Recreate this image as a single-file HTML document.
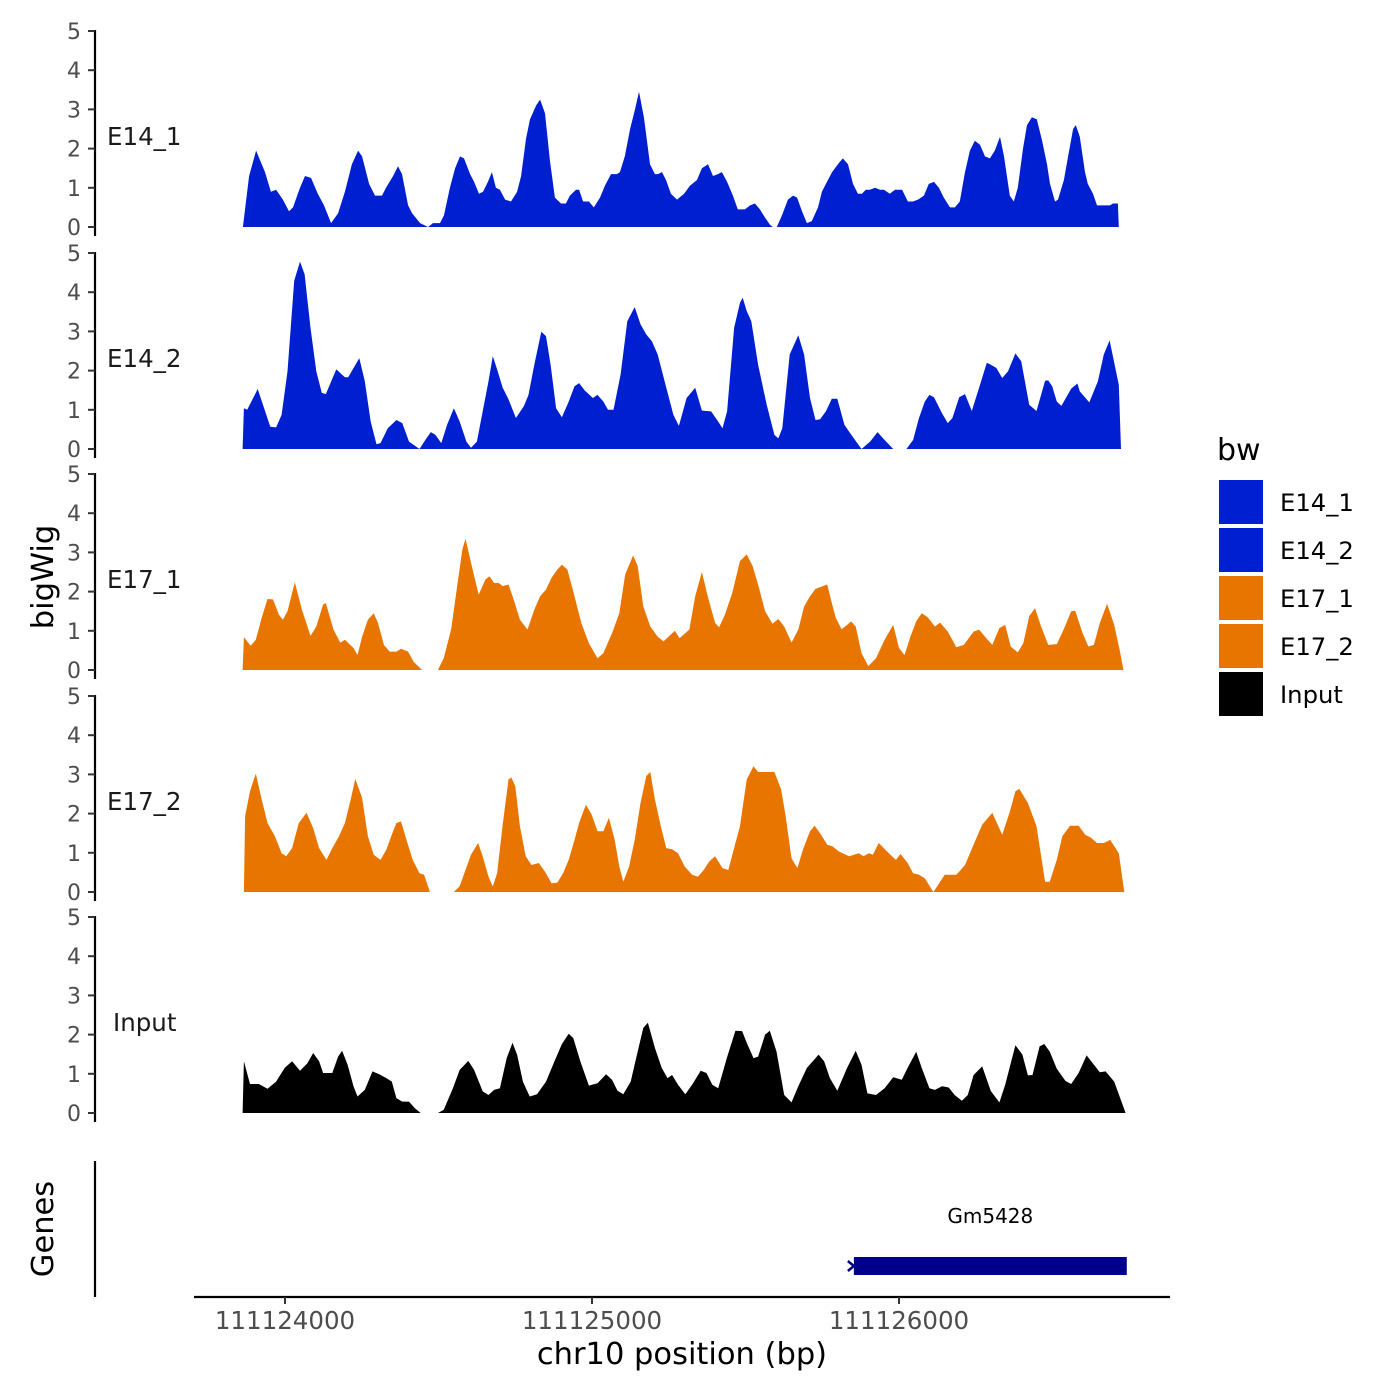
<!DOCTYPE html>
<html><head><meta charset="utf-8">
<style>
html,body{margin:0;padding:0;background:#fff;}
svg{display:block;font-family:"DejaVu Sans","Liberation Sans",sans-serif;}
</style></head>
<body>
<svg id="chart" width="1400" height="1400" viewBox="0 0 1400 1400" xmlns="http://www.w3.org/2000/svg">
<rect x="0" y="0" width="1400" height="1400" fill="#fff"/>
</svg>
<script>
const BASE = 111124000;
const trackNames = ["E14_1","E14_2","E17_1","E17_2","Input"];
const trackColors = ["#001fd0","#001fd0","#e87500","#e87500","#000000"];
const xTicks = [111124000,111125000,111126000];
const yTicks = [0,1,2,3,4,5];
// positions as bp offsets from BASE, values as coverage
const e14_1_pos = [-137,-117,-94,-65,-46,-29,-7,13,26,49,65,85,107,127,150,173,195,218,238,251,274,293,316,329,352,368,381,401,414,440,466,482,505,518,537,554,570,583,603,616,632,645,661,674,687,700,717,736,756,769,785,798,818,831,847,863,879,899,915,928,948,958,971,990,1006,1026,1042,1062,1081,1091,1107,1124,1140,1153,1169,1189,1205,1215,1228,1241,1257,1277,1300,1319,1342,1358,1378,1394,1410,1423,1440,1459,1475,1498,1515,1531,1547,1563,1580,1589,1602,1619,1638,1655,1668,1684,1700,1716,1736,1749,1762,1782,1801,1817,1834,1850,1866,1879,1892,1905,1922,1938,1951,1970,1987,2010,2029,2045,2062,2081,2097,2114,2130,2146,2166,2182,2198,2215,2231,2247,2264,2280,2296,2312,2329,2342,2361,2374,2387,2404,2417,2433,2449,2466,2482,2492,2508,2518,2537,2553,2567,2576,2589,2606,2615,2632,2645,2671,2687,2697,2713,2716];
const e14_1_val = [0,1.3,1.95,1.4,0.9,0.95,0.7,0.4,0.5,1.0,1.3,1.25,0.85,0.55,0.1,0.35,0.9,1.6,1.95,1.8,1.1,0.8,0.8,1.0,1.3,1.55,1.35,0.55,0.35,0.1,0,0.1,0.1,0.3,1.0,1.5,1.8,1.75,1.35,1.15,0.85,0.9,1.15,1.4,1.0,0.95,0.7,0.65,0.9,1.3,2.25,2.75,3.1,3.25,2.9,1.7,0.75,0.6,0.6,0.8,0.95,0.95,0.65,0.65,0.5,0.75,1.05,1.35,1.35,1.4,1.8,2.5,3.0,3.45,2.8,1.6,1.35,1.35,1.4,1.2,0.85,0.7,0.85,1.05,1.2,1.5,1.6,1.3,1.35,1.4,1.15,0.8,0.45,0.45,0.55,0.6,0.45,0.25,0.05,0,0,0.3,0.7,0.8,0.75,0.4,0.1,0.15,0.5,0.9,1.1,1.4,1.6,1.75,1.6,1.1,0.85,0.85,0.95,0.95,1.0,0.95,0.95,0.85,0.95,0.95,0.65,0.65,0.7,0.8,1.1,1.15,1.0,0.75,0.5,0.5,0.65,1.4,1.95,2.2,2.1,1.8,1.75,1.95,2.3,1.8,0.8,0.65,1.0,2.0,2.6,2.8,2.75,2.2,1.6,1.1,0.65,0.7,1.2,1.9,2.5,2.6,2.3,1.4,1.1,0.85,0.55,0.55,0.55,0.6,0.6,0];
const e14_2_pos = [-138,-134,-123,-89,-48,-29,-11,8,30,49,64,83,102,120,133,167,195,206,242,260,279,298,311,335,363,382,404,438,457,475,490,509,528,550,569,591,606,625,644,663,677,691,709,728,752,778,793,812,835,850,865,883,902,924,943,958,977,1003,1018,1037,1052,1070,1093,1115,1139,1158,1177,1195,1214,1242,1265,1283,1308,1336,1358,1388,1411,1425,1440,1463,1482,1491,1504,1519,1541,1569,1594,1607,1620,1644,1672,1691,1710,1728,1743,1762,1781,1799,1822,1841,1878,1906,1930,1953,1981,2024,2046,2065,2084,2099,2114,2140,2159,2174,2196,2215,2237,2261,2286,2299,2317,2336,2355,2379,2398,2424,2448,2476,2486,2499,2514,2529,2561,2581,2589,2620,2648,2667,2686,2716,2723];
const e14_2_val = [0,1.04,1.0,1.53,0.57,0.55,0.87,1.98,4.29,4.78,4.46,3.09,1.98,1.43,1.4,2.03,1.83,1.83,2.32,1.73,0.7,0.12,0.15,0.53,0.74,0.66,0.19,0,0.23,0.43,0.36,0.15,0.62,1.04,0.7,0.19,0.03,0.19,0.96,1.73,2.37,2.03,1.56,1.27,0.79,1.09,1.38,2.15,2.99,2.88,2.15,1.04,0.81,1.21,1.6,1.68,1.49,1.3,1.38,1.21,1.0,1.0,1.9,3.26,3.62,3.18,2.92,2.75,2.41,1.56,0.87,0.59,1.3,1.56,0.98,0.96,0.7,0.53,0.96,3.09,3.73,3.86,3.52,3.26,2.15,1.13,0.36,0.27,0.53,2.41,2.9,2.41,1.3,0.74,0.76,0.96,1.28,1.28,0.62,0.4,0,0.19,0.43,0.23,0,0,0.23,0.79,1.21,1.38,1.32,0.91,0.66,0.79,1.32,1.4,0.97,1.56,2.2,2.15,2.07,1.81,1.98,2.44,2.24,1.13,0.97,1.74,1.75,1.6,1.21,1.1,1.54,1.67,1.47,1.19,1.73,2.41,2.77,1.64,0];
const e17_1_pos = [-138,-134,-112,-95,-76,-57,-39,-20,-7,8,32,55,83,102,124,133,158,180,195,223,236,251,270,289,303,322,341,363,378,401,419,444,448,498,517,541,560,578,588,606,631,653,666,681,696,709,728,747,765,790,812,831,850,868,887,902,920,943,965,990,1018,1037,1065,1089,1108,1134,1149,1167,1190,1214,1233,1252,1270,1285,1317,1336,1358,1377,1401,1414,1433,1457,1482,1504,1523,1541,1564,1588,1607,1626,1650,1672,1691,1710,1728,1766,1781,1794,1813,1831,1844,1859,1878,1900,1925,1953,1981,2000,2018,2037,2056,2074,2093,2117,2134,2159,2187,2211,2243,2261,2280,2304,2327,2346,2364,2387,2405,2424,2443,2461,2486,2514,2536,2561,2574,2598,2617,2635,2654,2678,2701,2720,2731];
const e17_1_val = [0,0.84,0.62,0.77,1.33,1.81,1.8,1.41,1.28,1.5,2.24,1.54,0.87,1.11,1.67,1.71,1.03,0.7,0.77,0.56,0.38,0.85,1.28,1.45,1.2,0.64,0.47,0.47,0.54,0.47,0.21,0.02,0,0,0.3,1.03,2.09,3.08,3.35,2.74,1.92,2.31,2.39,2.22,2.22,2.14,2.18,1.75,1.28,1.03,1.54,1.88,2.05,2.35,2.56,2.69,2.56,1.88,1.2,0.68,0.3,0.43,0.94,1.45,2.44,2.92,2.65,1.62,1.11,0.85,0.73,0.87,1.0,0.81,1.03,1.88,2.5,1.88,1.2,1.09,1.41,1.97,2.78,2.95,2.65,2.18,1.5,1.18,1.3,1.11,0.7,1.03,1.62,1.88,2.07,2.18,1.71,1.33,1.04,1.15,1.24,1.11,0.43,0.1,0.3,0.77,1.15,0.56,0.38,0.85,1.24,1.45,1.35,1.11,1.21,0.98,0.58,0.64,0.98,1.03,0.85,0.64,1.07,1.15,0.6,0.45,0.68,1.37,1.58,1.15,0.64,0.66,1.03,1.5,1.51,0.94,0.6,0.64,1.2,1.69,1.15,0.47,0];
const e17_2_pos = [-134,-130,-114,-95,-76,-57,-33,-11,4,23,45,70,92,111,135,154,176,195,214,229,251,270,289,311,330,348,363,378,397,416,438,453,472,550,569,588,606,629,644,663,677,691,709,728,737,750,765,784,803,827,850,868,887,906,924,943,958,980,999,1018,1037,1055,1074,1089,1102,1121,1139,1158,1177,1190,1205,1224,1242,1261,1280,1302,1326,1345,1364,1382,1401,1425,1444,1463,1482,1504,1526,1541,1594,1616,1631,1650,1669,1687,1710,1725,1743,1766,1784,1803,1837,1869,1884,1902,1915,1934,1972,1990,2005,2028,2046,2065,2084,2112,2149,2187,2215,2243,2271,2304,2336,2360,2379,2392,2420,2448,2476,2491,2514,2532,2557,2585,2607,2626,2645,2667,2688,2716,2734];
const e17_2_val = [0,1.93,2.57,3.02,2.36,1.76,1.42,0.99,0.91,1.12,1.76,2.02,1.63,1.12,0.82,1.12,1.42,1.76,2.36,2.89,2.4,1.42,0.95,0.82,1.08,1.46,1.76,1.8,1.29,0.82,0.48,0.44,0,0,0.15,0.56,0.95,1.25,0.91,0.39,0.14,0.48,1.72,2.87,2.92,2.7,1.68,0.91,0.69,0.74,0.48,0.22,0.24,0.48,0.82,1.33,1.76,2.23,1.97,1.55,1.55,1.89,1.33,0.65,0.26,0.65,1.33,2.27,2.96,3.06,2.36,1.68,1.12,1.09,0.99,0.65,0.44,0.39,0.56,0.78,0.91,0.61,0.56,1.12,1.68,2.87,3.21,3.06,3.06,2.62,1.93,0.86,0.61,1.08,1.55,1.69,1.5,1.21,1.16,1.04,0.91,0.99,0.91,0.99,0.95,1.25,0.95,0.82,0.97,0.74,0.48,0.44,0.35,0,0.44,0.44,0.69,1.21,1.72,2.02,1.46,2.02,2.57,2.63,2.27,1.68,0.26,0.26,0.82,1.42,1.69,1.69,1.46,1.38,1.25,1.25,1.33,0.99,0];
const input_pos = [-138,-134,-114,-85,-57,-29,-1,23,49,73,92,111,124,154,173,186,204,223,236,260,285,307,330,348,363,382,404,423,442,498,517,547,569,597,616,644,663,681,700,722,741,756,775,797,821,850,878,902,924,939,962,990,1018,1046,1065,1083,1102,1126,1149,1167,1182,1205,1227,1246,1261,1280,1304,1326,1354,1373,1392,1411,1439,1467,1489,1504,1526,1541,1564,1579,1601,1626,1650,1672,1700,1738,1756,1775,1799,1831,1859,1878,1897,1925,1953,1981,2009,2028,2056,2074,2099,2117,2140,2162,2181,2205,2224,2243,2271,2299,2327,2346,2379,2402,2420,2435,2458,2473,2491,2514,2542,2561,2585,2611,2626,2654,2673,2701,2738];
const input_val = [0,1.32,0.74,0.74,0.62,0.8,1.15,1.32,1.08,1.27,1.53,1.32,1.02,1.02,1.44,1.59,1.23,0.68,0.42,0.59,1.06,0.99,0.89,0.8,0.38,0.29,0.29,0.12,0,0,0.08,0.63,1.1,1.33,1.1,0.55,0.46,0.59,0.63,1.4,1.79,1.49,0.8,0.42,0.48,0.8,1.32,1.76,2.02,1.91,1.32,0.7,0.76,0.99,0.85,0.57,0.48,0.8,1.57,2.17,2.3,1.66,1.15,0.89,0.97,0.72,0.48,0.72,1.08,1.02,0.72,0.63,1.4,2.1,2.09,1.79,1.4,1.44,2.0,2.1,1.57,0.46,0.27,0.68,1.15,1.49,1.32,0.89,0.57,1.15,1.59,1.23,0.5,0.46,0.63,0.91,0.85,1.15,1.56,1.15,0.63,0.59,0.68,0.65,0.46,0.31,0.46,0.97,1.19,0.56,0.27,0.72,1.73,1.49,0.96,0.97,1.7,1.76,1.57,1.13,0.82,0.74,1.02,1.47,1.32,1.04,1.06,0.8,0];
const trackPos = [e14_1_pos,e14_2_pos,e17_1_pos,e17_2_pos,input_pos];
const trackVal = [e14_1_val,e14_2_val,e17_1_val,e17_2_val,input_val];
const geneName = "Gm5428";
const geneStart = 111125853;
const geneEnd = 111126742;

const NS = "http://www.w3.org/2000/svg";
const svg = document.getElementById("chart");
function mk(tag, attrs, parent){ const e=document.createElementNS(NS,tag); for(const k in attrs) e.setAttribute(k,attrs[k]); (parent||svg).appendChild(e); return e; }
function xScale(bp){ return 285 + (bp - 111124000) * 0.307; }
const panelZero = [227,449,670,892,1113];
const unit = 39.2;
function yScale(i,v){ return panelZero[i] - v*unit; }

trackNames.forEach((name,i)=>{
  const g = mk("g",{});
  
  
  const ps = trackPos[i], vs = trackVal[i];
  let d = "M"+xScale(BASE+ps[0]).toFixed(1)+","+yScale(i,0);
  for(let k=0;k<ps.length;k++) d += " L"+xScale(BASE+ps[k]).toFixed(1)+","+yScale(i,vs[k]).toFixed(1);
  d += " L"+xScale(BASE+ps[ps.length-1]).toFixed(1)+","+yScale(i,0)+" Z";
  const area = mk("path",{d:d,fill:trackColors[i]},g);
  
  
  const ax = mk("line",{x1:95,x2:95,y1:yScale(i,5)-1,y2:panelZero[i]+9,stroke:"#000","stroke-width":2.2},g);
  
  
  yTicks.forEach(t=>{
    const y=yScale(i,t);
    const tk = mk("line",{x1:88,x2:95,y1:y,y2:y,stroke:"#333","stroke-width":2},g);
    
    
    const tl = mk("text",{x:81,y:y+8,"text-anchor":"end","font-size":22,fill:"#4d4d4d"},g);
    tl.textContent = t;
    
    
  });
  const lab = mk("text",{x:name==="Input"?113:107,y:yScale(i,2.3)+8,"text-anchor":"start","font-size":24.5,fill:"#1a1a1a"},g);
  lab.textContent = name;
  
  
});

const gAx = mk("line",{x1:95,x2:95,y1:1161,y2:1297,stroke:"#000","stroke-width":2.2});


const gRect = mk("rect",{x:xScale(geneStart),y:1257,width:xScale(geneEnd)-xScale(geneStart),height:18,fill:"#00008b"});


const gArrow = mk("path",{d:"M"+(xScale(geneStart)-6)+",1261 L"+(xScale(geneStart))+",1266 L"+(xScale(geneStart)-6)+",1271",stroke:"#00008b","stroke-width":2.5,fill:"none"});


const gLab = mk("text",{x:(xScale(geneStart)+xScale(geneEnd))/2,y:1223,"text-anchor":"middle","font-size":20,fill:"#000"});
gLab.textContent = geneName;



const xAx = mk("line",{x1:194,x2:1170,y1:1297,y2:1297,stroke:"#000","stroke-width":2.2});


xTicks.forEach(t=>{
  const x=xScale(t);
  const tk = mk("line",{x1:x,x2:x,y1:1297,y2:1304,stroke:"#333","stroke-width":2});
  
  
  const tl = mk("text",{x:x,y:1329,"text-anchor":"middle","font-size":24.5,fill:"#4d4d4d"});
  tl.textContent = t;
  
  
});
const xTitle = mk("text",{x:682,y:1364,"text-anchor":"middle","font-size":30.5,fill:"#000"});
xTitle.textContent = "chr10 position (bp)";


const yTitle = mk("text",{x:0,y:0,"text-anchor":"middle","font-size":30.5,fill:"#000",transform:"translate(53,577) rotate(-90)"});
yTitle.textContent = "bigWig";


const gTitle = mk("text",{x:0,y:0,"text-anchor":"middle","font-size":30.5,fill:"#000",transform:"translate(53,1229) rotate(-90)"});
gTitle.textContent = "Genes";



const lg = mk("g",{});


const lt = mk("text",{x:1217,y:460,"font-size":30,fill:"#000"},lg);
lt.textContent = "bw";


trackNames.forEach((name,i)=>{
  const y = 480 + i*48;
  const r = mk("rect",{x:1219,y:y,width:44,height:44,fill:trackColors[i]},lg);
  
  
  const t = mk("text",{x:1280,y:y+31,"font-size":24.3,fill:"#000"},lg);
  t.textContent = name;
  
  
});
</script>
</body></html>
